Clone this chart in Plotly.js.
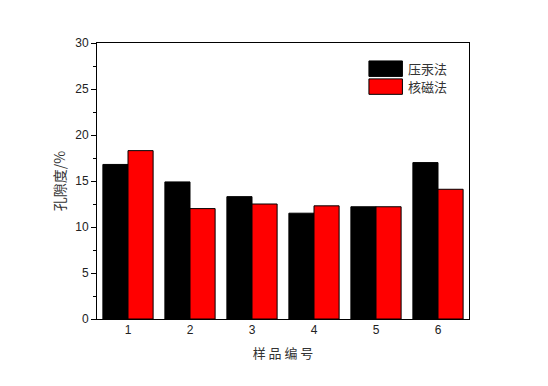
<!DOCTYPE html>
<html>
<head>
<meta charset="utf-8">
<script src="https://cdn.plot.ly/plotly-3.0.1.min.js"></script>
<style>html,body{margin:0;padding:0;background:#fff;}#chart{width:548px;height:386px;}</style>
</head>
<body>
<div id="chart"></div>
<script>
var categories = ['1', '2', '3', '4', '5', '6'];
var seriesNames = ['压汞法', '核磁法'];
var mercury = [16.8, 14.9, 13.3, 11.5, 12.2, 17.0];
var nmr = [18.3, 12.0, 12.5, 12.3, 12.2, 14.1];
var yTickVals = [0, 5, 10, 15, 20, 25, 30];
var xTitle = '样 品 编 号';
var yTitle = '孔隙度/%';
var colors = ['#000000', '#ff0000'];

var cjk = '"Noto Sans CJK SC", sans-serif';
var latin = '"Liberation Sans", Arial, sans-serif';

var traces = [mercury, nmr].map(function (vals, i) {
  return {
    type: 'bar',
    x: categories,
    y: vals,
    name: seriesNames[i],
    marker: {color: colors[i], line: {color: '#000000', width: 1}},
    showlegend: false,
    hoverinfo: 'x+y'
  };
});

var shapes = [];
var annotations = [];
seriesNames.forEach(function (n, i) {
  var y1 = 0.935 - i * 0.065;
  shapes.push({type: 'rect', xref: 'paper', yref: 'paper',
    x0: 0.731, x1: 0.821, y0: y1 - 0.056, y1: y1,
    fillcolor: colors[i], line: {color: '#000000', width: 1}});
  annotations.push({xref: 'paper', yref: 'paper', x: 0.830, y: y1 - 0.028,
    xanchor: 'left', yanchor: 'middle', showarrow: false, text: n,
    font: {family: cjk, size: 13, color: '#333333'}});
});

var layout = {
  width: 548, height: 386,
  margin: {l: 97, r: 79, t: 43, b: 67},
  paper_bgcolor: '#ffffff', plot_bgcolor: '#ffffff',
  barmode: 'group', bargap: 0.19, bargroupgap: 0,
  font: {family: latin, size: 12, color: '#222222'},
  xaxis: {
    type: 'category', range: [-0.5, 5.5],
    showline: true, mirror: true, linecolor: '#000000', linewidth: 1,
    ticks: '', showgrid: false, zeroline: false,
    tickfont: {family: latin, size: 12, color: '#222222'},
    title: {text: xTitle, font: {family: cjk, size: 13, color: '#333333'}, standoff: 12}
  },
  yaxis: {
    range: [0, 30], tickvals: yTickVals,
    showline: true, mirror: true, linecolor: '#000000', linewidth: 1,
    ticks: 'outside', ticklen: 5, tickcolor: '#000000', tickwidth: 1,
    minor: {ticks: 'outside', dtick: 2.5, ticklen: 3, tickcolor: '#000000', showgrid: false},
    showgrid: false, zeroline: false,
    tickfont: {family: latin, size: 12, color: '#222222'},
    title: {text: yTitle, font: {family: cjk, size: 14, color: '#333333'}, standoff: 6}
  },
  shapes: shapes,
  annotations: annotations
};

Plotly.newPlot('chart', traces, layout, {staticPlot: true, displayModeBar: false});
</script>
</body>
</html>
